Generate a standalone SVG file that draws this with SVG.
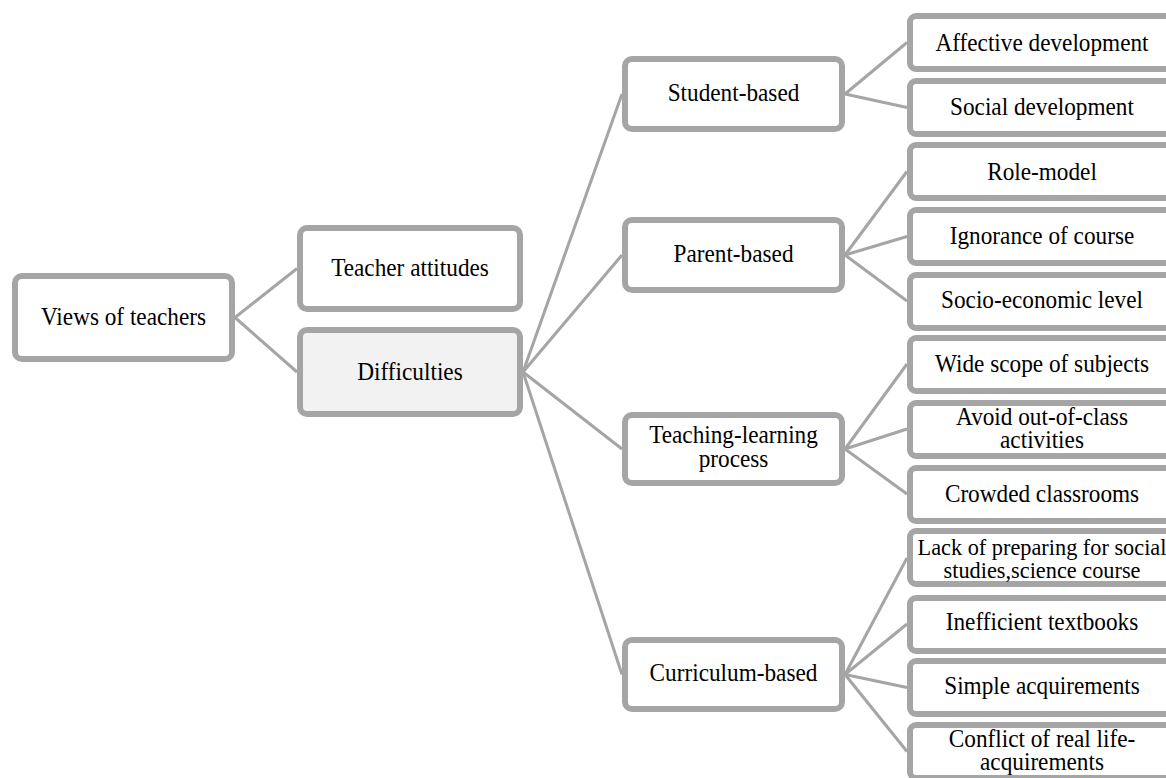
<svg xmlns="http://www.w3.org/2000/svg" width="1166" height="778" viewBox="0 0 1166 778">
<style>
.box{fill:#ffffff;stroke:#a5a5a5;stroke-width:6}
.hl{fill:#f2f2f2}
.lbl{font-family:"Liberation Serif","Times New Roman",serif;font-size:25px;fill:#000;text-anchor:middle}
.sm{font-size:24px}
#connectors line{stroke:#a5a5a5;stroke-width:3}
</style>
<rect width="1166" height="778" fill="#ffffff"/>
<g id="connectors">
<line x1="235" y1="317.5" x2="297" y2="268.5"/>
<line x1="235" y1="317.5" x2="297" y2="372"/>
<line x1="523" y1="372" x2="622" y2="94"/>
<line x1="523" y1="372" x2="622" y2="255"/>
<line x1="523" y1="372" x2="622" y2="449"/>
<line x1="523" y1="372" x2="622" y2="674.5"/>
<line x1="845" y1="94" x2="907" y2="42.5"/>
<line x1="845" y1="94" x2="907" y2="107.5"/>
<line x1="845" y1="255" x2="907" y2="171.5"/>
<line x1="845" y1="255" x2="907" y2="236.5"/>
<line x1="845" y1="255" x2="907" y2="301"/>
<line x1="845" y1="449" x2="907" y2="364"/>
<line x1="845" y1="449" x2="907" y2="429"/>
<line x1="845" y1="449" x2="907" y2="494"/>
<line x1="845" y1="674.5" x2="907" y2="558"/>
<line x1="845" y1="674.5" x2="907" y2="624"/>
<line x1="845" y1="674.5" x2="907" y2="687.5"/>
<line x1="845" y1="674.5" x2="907" y2="751.5"/>
</g>
<g id="views">
<rect class="box" x="15" y="276" width="217" height="83" rx="7"/>
<text class="lbl" transform="translate(123.5,324.5) scale(0.93,1)">Views of teachers</text>
</g>
<g id="teacher-attitudes">
<rect class="box" x="300" y="228" width="220" height="81" rx="7"/>
<text class="lbl" transform="translate(410,275.5) scale(0.93,1)">Teacher attitudes</text>
</g>
<g id="difficulties">
<rect class="box hl" x="300" y="330" width="220" height="84" rx="7"/>
<text class="lbl" transform="translate(410,380) scale(0.93,1)">Difficulties</text>
</g>
<g id="student-based">
<rect class="box" x="625" y="59" width="217" height="70" rx="7"/>
<text class="lbl" transform="translate(733.5,101) scale(0.93,1)">Student-based</text>
</g>
<g id="parent-based">
<rect class="box" x="625" y="220" width="217" height="70" rx="7"/>
<text class="lbl" transform="translate(733.5,262) scale(0.93,1)">Parent-based</text>
</g>
<g id="teaching-learning">
<rect class="box" x="625" y="415" width="217" height="68" rx="7"/>
<text class="lbl" transform="translate(733.5,443) scale(0.93,1)">Teaching-learning</text>
<text class="lbl" transform="translate(733.5,467) scale(0.93,1)">process</text>
</g>
<g id="curriculum-based">
<rect class="box" x="625" y="640" width="217" height="69" rx="7"/>
<text class="lbl" transform="translate(733.5,681) scale(0.93,1)">Curriculum-based</text>
</g>
<g id="affective">
<rect class="box" x="910" y="16" width="264" height="53" rx="6"/>
<text class="lbl" transform="translate(1042,50.5) scale(0.93,1)">Affective development</text>
</g>
<g id="social">
<rect class="box" x="910" y="81" width="264" height="53" rx="6"/>
<text class="lbl" transform="translate(1042,115) scale(0.93,1)">Social development</text>
</g>
<g id="role-model">
<rect class="box" x="910" y="145" width="264" height="53" rx="6"/>
<text class="lbl" transform="translate(1042,179.5) scale(0.93,1)">Role-model</text>
</g>
<g id="ignorance">
<rect class="box" x="910" y="210" width="264" height="53" rx="6"/>
<text class="lbl" transform="translate(1042,243.5) scale(0.93,1)">Ignorance of course</text>
</g>
<g id="socio-economic">
<rect class="box" x="910" y="275" width="264" height="53" rx="6"/>
<text class="lbl" transform="translate(1042,308) scale(0.93,1)">Socio-economic level</text>
</g>
<g id="wide-scope">
<rect class="box" x="910" y="338" width="264" height="53" rx="6"/>
<text class="lbl" transform="translate(1042,372) scale(0.93,1)">Wide scope of subjects</text>
</g>
<g id="avoid">
<rect class="box" x="910" y="403" width="264" height="53" rx="6"/>
<text class="lbl" transform="translate(1042,425) scale(0.93,1)">Avoid out-of-class</text>
<text class="lbl" transform="translate(1042,448) scale(0.93,1)">activities</text>
</g>
<g id="crowded">
<rect class="box" x="910" y="468" width="264" height="53" rx="6"/>
<text class="lbl" transform="translate(1042,502) scale(0.93,1)">Crowded classrooms</text>
</g>
<g id="lack">
<rect class="box" x="910" y="531" width="264" height="53" rx="6"/>
<text class="lbl sm" transform="translate(1042,555) scale(0.93,1)">Lack of preparing for social</text>
<text class="lbl sm" transform="translate(1042,578) scale(0.93,1)">studies,science course</text>
</g>
<g id="inefficient">
<rect class="box" x="910" y="598" width="264" height="53" rx="6"/>
<text class="lbl" transform="translate(1042,630) scale(0.93,1)">Inefficient textbooks</text>
</g>
<g id="simple">
<rect class="box" x="910" y="661" width="264" height="53" rx="6"/>
<text class="lbl" transform="translate(1042,694) scale(0.93,1)">Simple acquirements</text>
</g>
<g id="conflict">
<rect class="box" x="910" y="725" width="264" height="53" rx="6"/>
<text class="lbl" transform="translate(1042,747) scale(0.93,1)">Conflict of real life-</text>
<text class="lbl" transform="translate(1042,770) scale(0.93,1)">acquirements</text>
</g>
</svg>
